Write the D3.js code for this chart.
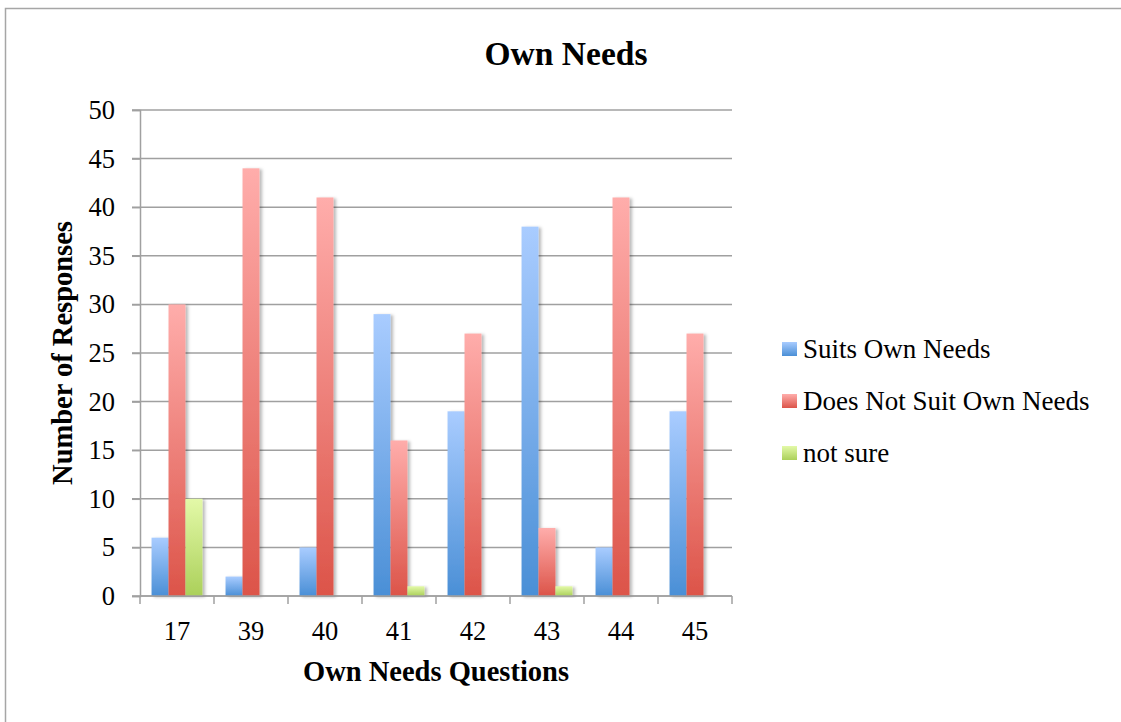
<!DOCTYPE html>
<html>
<head>
<meta charset="utf-8">
<script src="https://cdn.jsdelivr.net/npm/d3@7"></script>
<style>
  html, body { margin: 0; padding: 0; background: #fff; }
  svg { display: block; }
  text { font-family: "Liberation Serif", "DejaVu Serif", serif; fill: #000; }
</style>
</head>
<body>
<svg id="chart" width="1121" height="722"></svg>
<script>
// Question categories along the x axis
const questions = ["17", "39", "40", "41", "42", "43", "44", "45"];
// Series names
const seriesNames = ["Suits Own Needs", "Does Not Suit Own Needs", "not sure"];
// Response counts per question
const suits    = [6, 2, 5, 29, 19, 38, 5, 19];
const notSuits = [30, 44, 41, 16, 27, 7, 41, 27];
const notSure  = [10, 0, 0, 1, 0, 1, 0, 0];
// Y axis tick values
const yTicks = [0, 5, 10, 15, 20, 25, 30, 35, 40, 45, 50];

const seriesValues = [suits, notSuits, notSure];
// light top / dark bottom gradient stops per series
const gradStops = [
  ["#a9ccff", "#4a8fd6"],
  ["#ffadab", "#dc5449"],
  ["#e3f9a8", "#abd05a"]
];

const svg = d3.select("#chart");
const margin = { left: 140, right: 732, top: 110, bottom: 596 };

// outer chart frame
svg.append("rect")
  .attr("x", 5.5).attr("y", 8.5)
  .attr("width", 1130).attr("height", 730)
  .attr("fill", "none").attr("stroke", "#a6a6a6").attr("stroke-width", 1.5);

const defs = svg.append("defs");
gradStops.forEach((s, i) => {
  const g = defs.append("linearGradient")
    .attr("id", "grad" + i)
    .attr("x1", 0).attr("y1", 0).attr("x2", 0).attr("y2", 1);
  g.append("stop").attr("offset", "0%").attr("stop-color", s[0]);
  g.append("stop").attr("offset", "100%").attr("stop-color", s[1]);
});
const shadow = defs.append("filter").attr("id", "shadow")
  .attr("x", "-20%").attr("y", "-10%").attr("width", "160%").attr("height", "130%");
shadow.append("feDropShadow")
  .attr("dx", 2.5).attr("dy", 1).attr("stdDeviation", 1.6)
  .attr("flood-color", "#000").attr("flood-opacity", 0.28);

const x = d3.scaleBand().domain(questions)
  .range([margin.left, margin.right]).paddingInner(0).paddingOuter(0);
const xInner = d3.scaleBand().domain(d3.range(seriesNames.length))
  .range([0, x.bandwidth()]).paddingOuter(0.68).paddingInner(0);
const y = d3.scaleLinear().domain([0, 50]).range([margin.bottom, margin.top]);

// horizontal gridlines
svg.append("g")
  .selectAll("line").data(yTicks).join("line")
  .attr("x1", margin.left - 8).attr("x2", margin.right)
  .attr("y1", d => y(d)).attr("y2", d => y(d))
  .attr("stroke", "#a0a0a0").attr("stroke-width", 1.5);

// y axis
const yAxis = svg.append("g")
  .attr("transform", `translate(${margin.left},0)`)
  .call(d3.axisLeft(y).tickValues(yTicks).tickSize(8).tickPadding(17));
yAxis.select(".domain").attr("stroke", "#a0a0a0").attr("stroke-width", 1.5);
yAxis.selectAll(".tick line").attr("stroke", "#a0a0a0").attr("stroke-width", 1.5);
yAxis.selectAll(".tick text")
  .attr("font-family", "Liberation Serif, serif").attr("font-size", 26.5).attr("fill", "#000");

// bars
const groups = svg.append("g").selectAll("g")
  .data(questions).join("g")
  .attr("transform", d => `translate(${x(d)},0)`);
groups.selectAll("rect")
  .data((q, qi) => seriesValues.map((vals, si) => ({ si, v: vals[qi] })))
  .join("rect")
  .filter(d => d.v > 0)
  .attr("x", d => xInner(d.si))
  .attr("width", xInner.bandwidth())
  .attr("y", d => y(d.v))
  .attr("height", d => y(0) - y(d.v))
  .attr("fill", d => `url(#grad${d.si})`)
  .attr("filter", "url(#shadow)");

// x axis with ticks at category boundaries
const xAxisG = svg.append("g").attr("transform", `translate(0,${margin.bottom})`);
xAxisG.append("line")
  .attr("x1", margin.left).attr("x2", margin.right)
  .attr("stroke", "#a0a0a0").attr("stroke-width", 1.5);
const boundaries = questions.map(q => x(q)).concat([margin.right]);
xAxisG.selectAll("line.b").data(boundaries).join("line")
  .attr("class", "b")
  .attr("x1", d => d).attr("x2", d => d).attr("y1", 0).attr("y2", 8)
  .attr("stroke", "#a0a0a0").attr("stroke-width", 1.5);
xAxisG.selectAll("text").data(questions).join("text")
  .attr("x", d => x(d) + x.bandwidth() / 2)
  .attr("y", 44)
  .attr("text-anchor", "middle")
  .attr("font-size", 26.5)
  .text(d => d);

// title
svg.append("text")
  .attr("x", 566).attr("y", 65)
  .attr("text-anchor", "middle")
  .attr("font-size", 33.5).attr("font-weight", "bold")
  .text("Own Needs");

// axis titles
svg.append("text")
  .attr("x", 436).attr("y", 681)
  .attr("text-anchor", "middle")
  .attr("font-size", 28.5).attr("font-weight", "bold")
  .text("Own Needs Questions");
svg.append("text")
  .attr("transform", "translate(72,353) rotate(-90)")
  .attr("text-anchor", "middle")
  .attr("font-size", 28.5).attr("font-weight", "bold")
  .text("Number of Responses");

// legend
const legend = svg.append("g").attr("transform", "translate(782,342)");
const leg = legend.selectAll("g").data(seriesNames).join("g")
  .attr("transform", (d, i) => `translate(0,${i * 52})`);
leg.append("rect")
  .attr("width", 15).attr("height", 14)
  .attr("fill", (d, i) => `url(#grad${i})`);
leg.append("text")
  .attr("x", 21).attr("y", 16)
  .attr("font-size", 27)
  .text(d => d);
</script>
</body>
</html>
